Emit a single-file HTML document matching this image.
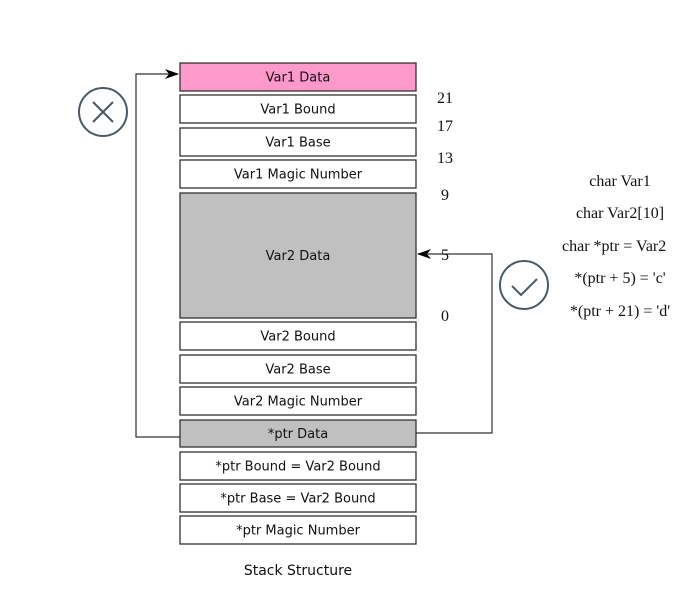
<!DOCTYPE html>
<html><head><meta charset="utf-8"><style>
html,body{margin:0;padding:0;background:#fff;overflow:hidden;}
svg{display:block;}
.b{font-family:"DejaVu Sans",sans-serif;font-size:13px;fill:#111;}
.s{font-family:"Liberation Serif",serif;font-size:16px;fill:#111;}
</style></head><body>
<svg width="675" height="599" viewBox="0 0 675 599">
<defs><marker id="ah" markerWidth="14" markerHeight="10" refX="13" refY="5" orient="auto" markerUnits="userSpaceOnUse"><path d="M0,0 L14,5 L0,10 L4,5 z" fill="#000"/></marker></defs>
<g id="boxes"></g>
<polyline points="180,437 136,437 136,74 178,74" fill="none" stroke="#333" stroke-width="1.2" marker-end="url(#ah)"/>
<polyline points="416,433 492,433 492,254 418,254" fill="none" stroke="#333" stroke-width="1.2" marker-end="url(#ah)"/>
<g stroke="#4a5a66" stroke-width="2" fill="none">
<circle cx="103" cy="112" r="24"/><line x1="93" y1="102" x2="113" y2="122"/><line x1="113" y1="102" x2="93" y2="122"/></g>
<g stroke="#4a5a66" stroke-width="2" fill="none">
<circle cx="524" cy="285" r="24"/><polyline points="512,286 521,295 537,279"/></g>
<g class="s">
<text x="445" y="103" text-anchor="middle">21</text>
<text x="445" y="131" text-anchor="middle">17</text>
<text x="445" y="163" text-anchor="middle">13</text>
<text x="445" y="200" text-anchor="middle">9</text>
<text x="445" y="260" text-anchor="middle">5</text>
<text x="445" y="321" text-anchor="middle">0</text>
</g>
<g class="s">
<text x="620" y="186" text-anchor="middle">char Var1</text>
<text x="620" y="218" text-anchor="middle">char Var2[10]</text>
<text x="562" y="251">char *ptr = Var2</text>
<text x="620" y="283" text-anchor="middle">*(ptr + 5) = 'c'</text>
<text x="620" y="316" text-anchor="middle">*(ptr + 21) = 'd'</text>
</g>
<text class="b" x="298" y="575" text-anchor="middle" style="font-size:14px">Stack Structure</text>
</svg>
<script>
const labels=["Var1 Data","Var1 Bound","Var1 Base","Var1 Magic Number","Var2 Data","Var2 Bound","Var2 Base","Var2 Magic Number","*ptr Data","*ptr Bound = Var2 Bound","*ptr Base = Var2 Bound","*ptr Magic Number"];
const tops=[63,95,128,160,193,322,355,387,420,452,484,516];
const bottoms=[91,123,156,188,318,350,383,415,447,480,512,544];
const fills=["#ff99cc","#fff","#fff","#fff","#c0c0c0","#fff","#fff","#fff","#c0c0c0","#fff","#fff","#fff"];
const g=document.getElementById('boxes');
const NS="http://www.w3.org/2000/svg";
labels.forEach((l,i)=>{
 const r=document.createElementNS(NS,'rect');
 
 
 r.setAttribute('x',180);r.setAttribute('y',tops[i]);r.setAttribute('width',236);r.setAttribute('height',bottoms[i]-tops[i]);
 r.setAttribute('fill',fills[i]);r.setAttribute('stroke','#333');r.setAttribute('stroke-width','1.3');
 g.appendChild(r);
 const t=document.createElementNS(NS,'text');
 
 
 t.setAttribute('class','b');t.setAttribute('x',298);t.setAttribute('y',(tops[i]+bottoms[i])/2+4.5);t.setAttribute('text-anchor','middle');
 t.textContent=l;g.appendChild(t);
});
</script>
</body></html>
